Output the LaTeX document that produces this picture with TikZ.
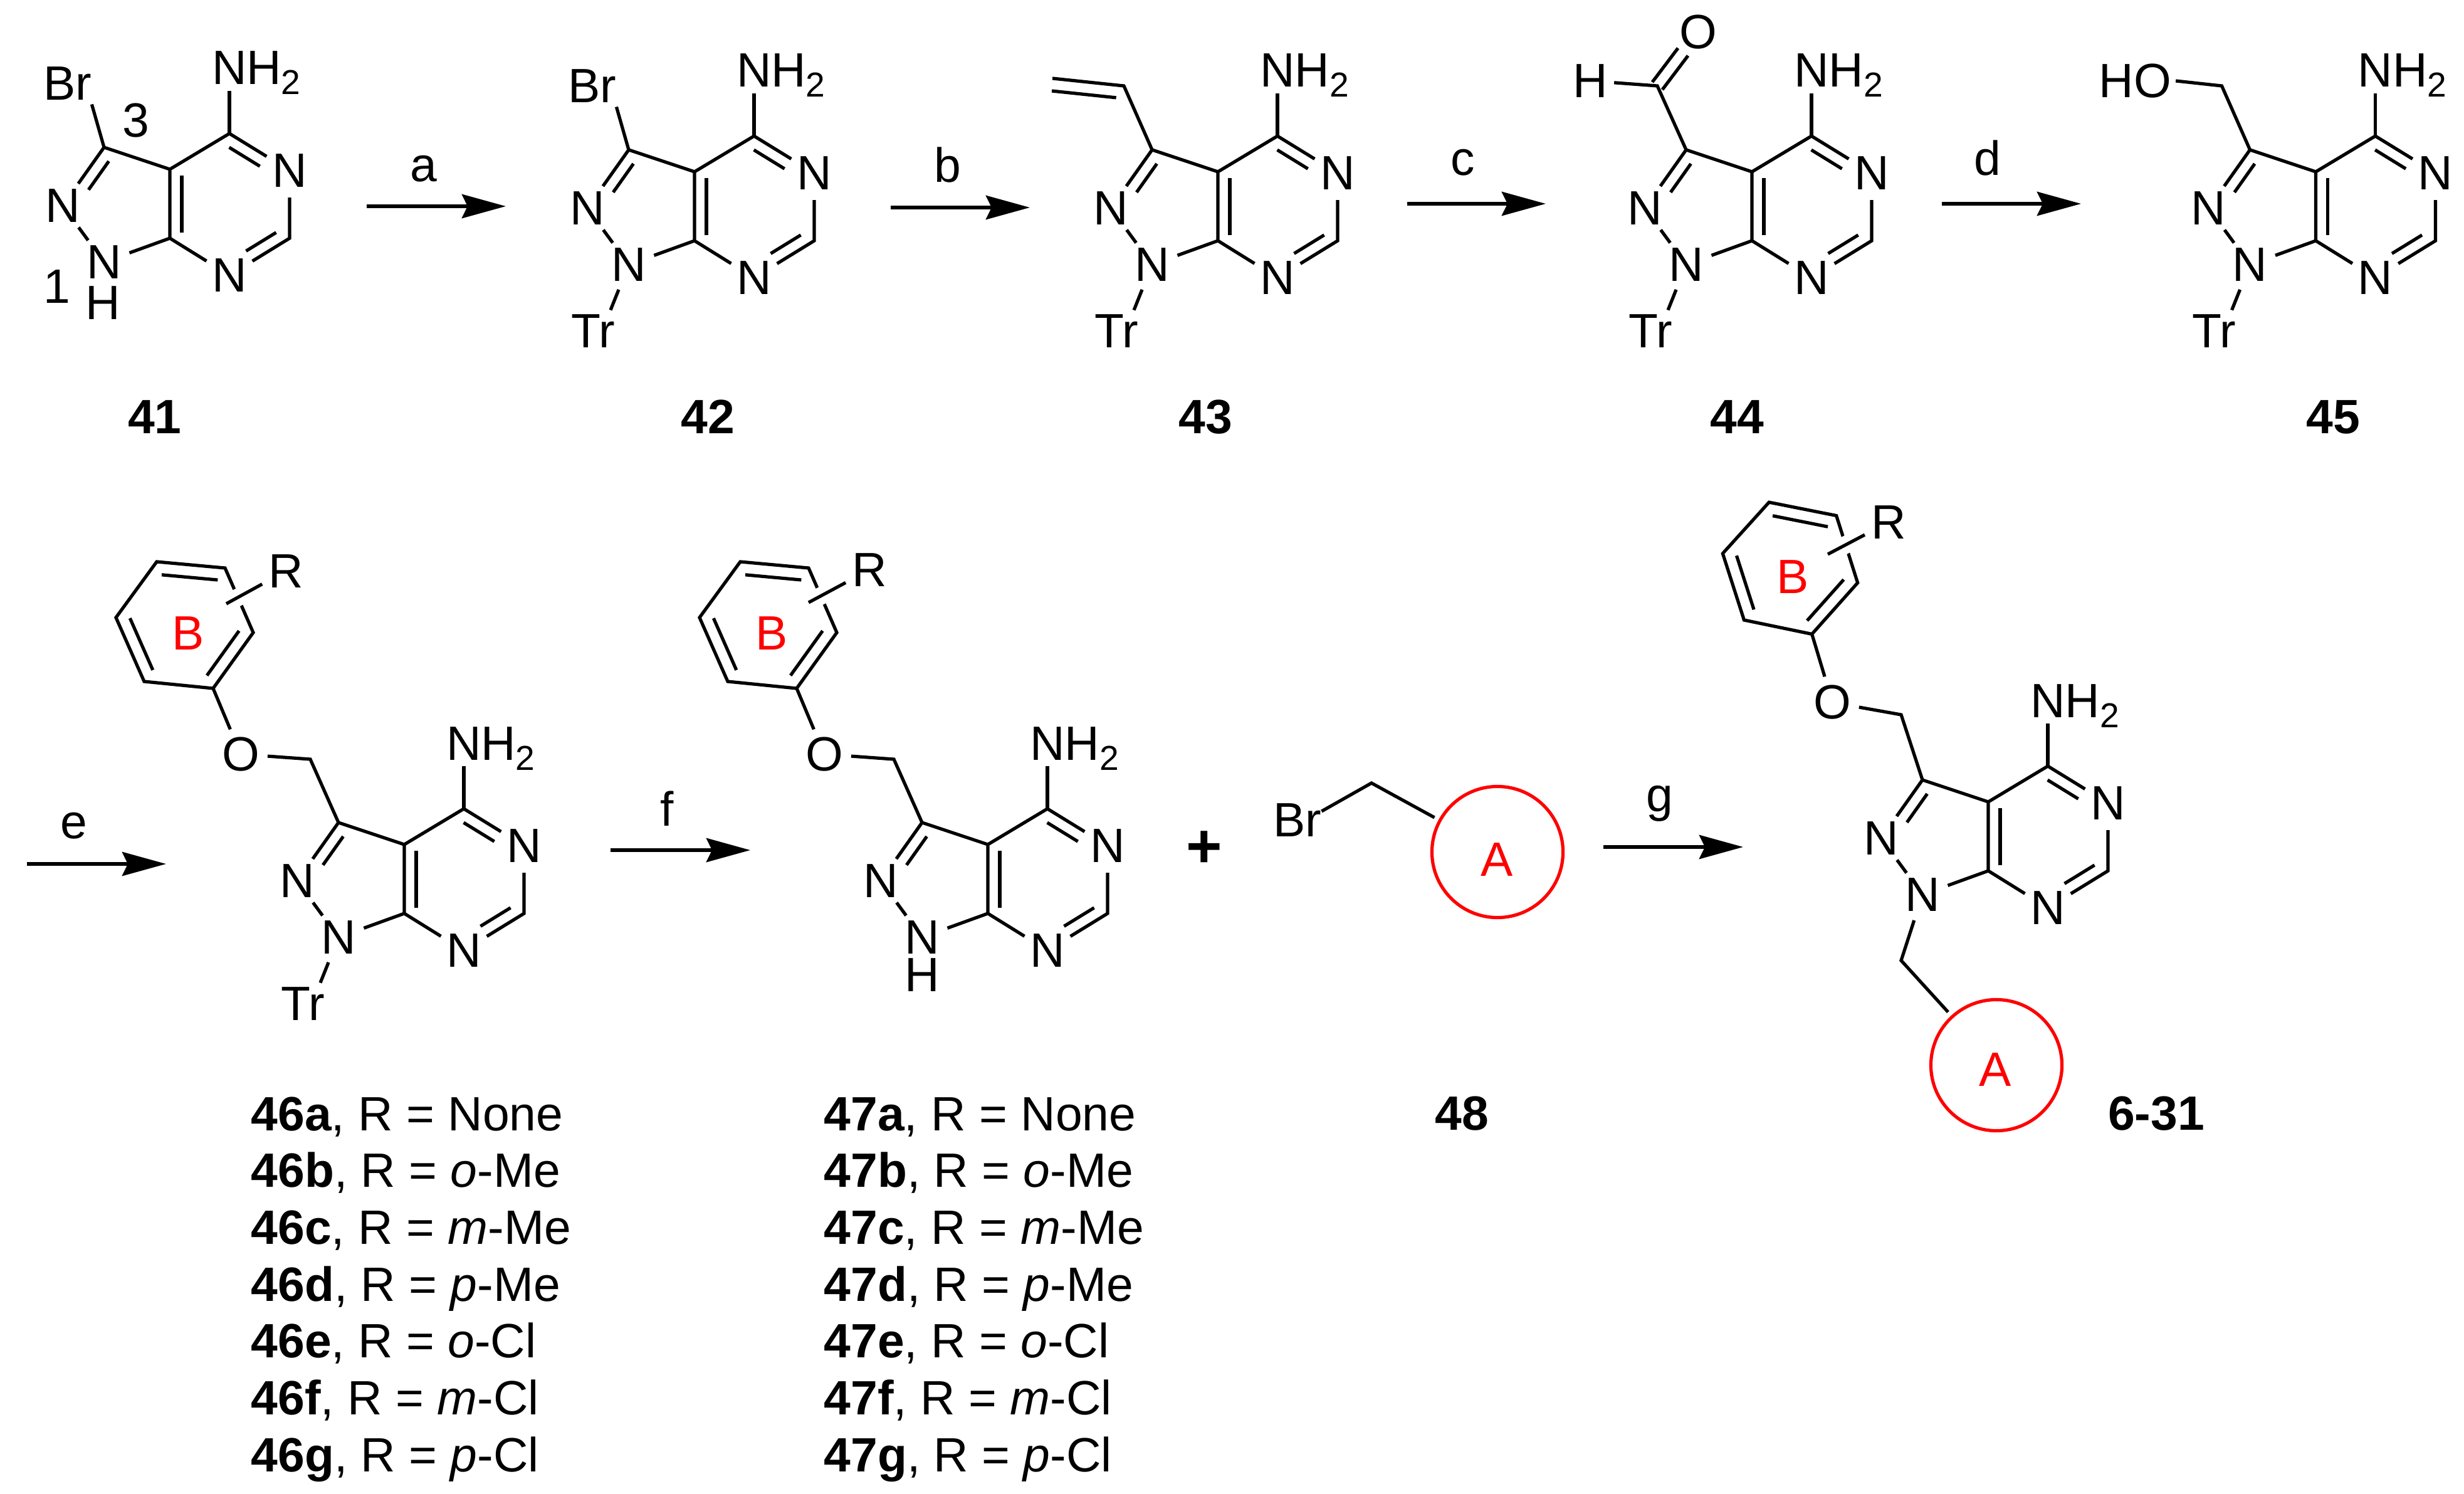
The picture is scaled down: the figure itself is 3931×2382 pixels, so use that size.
\documentclass[tikz,border=0pt]{standalone}
\usepackage{fontspec}
\setmainfont{Liberation Sans}
\usetikzlibrary{calc,arrows.meta}
\tikzset{
  every node/.style={font=\fontsize{21.85}{26}\selectfont},
  atom/.style={circle,inner sep=0pt,outer sep=0pt,minimum size=.86cm},
  atomh/.style={circle,inner sep=0pt,outer sep=0pt,minimum size=.6cm},
  sidelbl/.style={rectangle,inner xsep=0pt,inner ysep=.07cm,outer sep=0pt},
  amine/.style={rectangle,anchor=south west,inner xsep=0pt,inner ysep=.1cm,outer sep=0pt,text depth=0pt},
  ringa/.style={circle,draw=red,minimum size=2.09cm,inner sep=0pt,outer sep=.1cm},
  ringtxt/.style={text=red,inner sep=0pt},
  cmpd/.style={anchor=base,inner sep=0pt,font=\fontsize{21.85}{26}\selectfont\bfseries},
  rowlbl/.style={anchor=base west,inner sep=0pt},
  rxnlbl/.style={anchor=base,inner sep=0pt},
  rxn/.style={line width=.06cm,-{Stealth[length=.7cm,width=.38cm,inset=.09cm]}}
}
\newcommand{\subtwo}{\raisebox{-.16cm}{\fontsize{15.7}{18}\selectfont 2}}
\newcommand{\dbl}[6][.19cm]{\draw ($(#2)!#4!(#3)!#1!#6:(#3)$) -- ($(#2)!#5!(#3)!#1!#6:(#3)$);}
\newcommand{\pyrcore}[1]{
  \coordinate (#1c3) at (-105,-35);
  \coordinate (#1c3a) at (0,0);
  \coordinate (#1c7a) at (0,110);
  \coordinate (#1c4) at (95,-57);
  \coordinate (#1c6) at (191,110);
  \node[atom] (#1n5) at (191,2) {N};
  \node[atom] (#1n7) at (95,169) {N};
  \node[atom] (#1n2) at (-171,58) {N};
  \node[atom] (#1n1) at (-105,148) {N};
  \node[amine] (#1nh) at (67,-125) {NH\subtwo};
  \draw (#1n2) -- (#1c3) -- (#1c3a) -- (#1c4) -- (#1n5) -- (#1c6) -- (#1n7) -- (#1c7a) -- (#1c3a);
  \draw (#1c7a) -- (#1n1) -- (#1n2);
  \draw (#1c4) -- (#1c4 |- #1nh.south);
  \dbl{#1c3a}{#1c7a}{.09}{.92}{90}
  \dbl{#1c3}{#1n2}{.12}{.61}{90}
  \dbl{#1c4}{#1n5}{.1}{.61}{-90}
  \dbl{#1c6}{#1n7}{.12}{.62}{-90}
}
\newcommand{\trgroup}[1]{
  \node[sidelbl] (#1tr) at (-162,254) {Tr};
  \draw (#1n1) -- (#1tr.50);
}
\newcommand{\brgroup}[1]{
  \node[sidelbl] (#1br) at (-163,-137) {Br};
  \draw (#1c3) -- (#1br.south east);
}
\newcommand{\aryloxy}[4]{
  \begin{scope}[#2]
    \coordinate (#1ch2) at (-150,-136);
    \node[atom] (#1o) at (-261,-144) {O};
    \coordinate (#1v1) at (-395,-451);
    \coordinate (#1v2) at (-286,-441);
    \coordinate (#1v3) at (-241,-338);
    \coordinate (#1v4) at (-305,-249);
    \coordinate (#1v5) at (-415,-260);
    \coordinate (#1v6) at (-460,-362);
    \node[ringtxt] (#1b) at (-345,-337) {B};
  \end{scope}
  \coordinate (#1rb) at (#3);
  \node[atom] (#1r) at (#4) {R};
  \draw (#1c3) -- (#1ch2) -- (#1o) -- (#1v4);
  \draw (#1v1) -- (#1v2) -- (#1v3) -- (#1v4) -- (#1v5) -- (#1v6) -- cycle;
  \dbl[.2cm]{#1v1}{#1v2}{.09}{.91}{-90}
  \dbl[.2cm]{#1v3}{#1v4}{.1}{.9}{-90}
  \dbl[.2cm]{#1v5}{#1v6}{.1}{.91}{-90}
  \draw[white,line width=.28cm] (#1rb) -- (#1r);
  \draw (#1rb) -- (#1r);
}
\begin{document}
\begin{tikzpicture}[x=.01cm,y=-.01cm,line width=.052cm]
  \useasboundingbox (0,0) rectangle (3931,2382);
  \begin{scope}[shift={(271,270)}]
    \pyrcore{m41}
    \brgroup{m41}
    \node[atomh] (m41h) at (-107,213) {H};
    \node[sidelbl] (m41p3) at (-54,-78) {3};
    \node[sidelbl] (m41p1) at (-180,187) {1};
  \end{scope}
  \begin{scope}[shift={(1108,274)}]
    \pyrcore{m42}
    \brgroup{m42}
    \trgroup{m42}
  \end{scope}
  \begin{scope}[shift={(1943,274)}]
    \pyrcore{m43}
    \trgroup{m43}
    \coordinate (m43vi) at (-150,-137);
    \coordinate (m43vt) at (-264,-149);
    \draw (m43c3) -- (m43vi) -- (m43vt);
    \dbl[.2cm]{m43vi}{m43vt}{.09}{.99}{90}
  \end{scope}
  \begin{scope}[shift={(2795,274)}]
    \pyrcore{m44}
    \trgroup{m44}
    \coordinate (m44cho) at (-151,-137);
    \node[atomh] (m44h) at (-258,-145) {H};
    \node[atom] (m44o) at (-86,-223) {O};
    \draw (m44c3) -- (m44cho) -- (m44h);
    \dbl[.1cm]{m44cho}{m44o}{0}{.63}{90}
    \dbl[.1cm]{m44cho}{m44o}{0}{.63}{-90}
  \end{scope}
  \begin{scope}[shift={(3694.5,274)}]
    \pyrcore{m45}
    \trgroup{m45}
    \coordinate (m45ch2) at (-150,-137);
    \node[sidelbl,inner xsep=.07cm] (m45ho) at (-288,-145) {HO};
    \draw (m45c3) -- (m45ch2) -- (m45ho.east);
  \end{scope}
  \begin{scope}[shift={(645,1347)}]
    \pyrcore{m46}
    \trgroup{m46}
    \aryloxy{m46}{}{-284,-384}{-189,-436}
  \end{scope}
  \begin{scope}[shift={(1576,1347)}]
    \pyrcore{m47}
    \node[atomh] (m47h) at (-105,208) {H};
    \aryloxy{m47}{}{-286,-386}{-189,-438}
  \end{scope}
  \node[sidelbl] (br48) at (2070,1308) {Br};
  \coordinate (ch48) at (2188,1249);
  \node[ringa] (ring48) at (2389,1359) {};
  \node[ringtxt] (a48) at (2388,1371) {A};
  \draw (br48.20) -- (ch48) -- (ring48);
  \begin{scope}[shift={(3172,1279)}]
    \pyrcore{m31}
    \aryloxy{m31}{shift={(11,-3)},rotate around={-6:(-150,-136)}}{-256,-395}{-159,-446}
    \coordinate (ch31) at (-139,253);
    \node[ringa] (ring31) at (13,420) {};
    \node[ringtxt] (a31) at (11,427) {A};
    \draw (m31n1) -- (ch31) -- (ring31);
  \end{scope}
  \foreach \nm/\xa/\xb/\yy/\lx/\ly in {a/585/807/329/676/290,b/1421/1643/331/1512/291,c/2245/2466/325/2334/280,d/3098/3320/325/3171/280,e/43/265/1378/118/1337,f/974/1197/1356/1064/1317,g/2558/2781/1351/2648/1294}{
    \coordinate (s\nm) at (\xa,\yy);
    \coordinate (t\nm) at (\xb,\yy);
    \draw[rxn] (s\nm) -- (t\nm);
    \node[rxnlbl] (l\nm) at (\lx,\ly) {\nm};
  }
  \node[anchor=base,inner sep=0pt,font=\fontsize{28}{30}\selectfont\bfseries] (plus) at (1921,1383) {+};
  \foreach \nm/\xx in {41/247,42/1129,43/1923,44/2771,45/3722}{
    \node[cmpd] (lbl\nm) at (\xx,691) {\nm};
  }
  \node[cmpd] (lbl48) at (2332,1802) {48};
  \node[cmpd] (lbl631) at (3440,1802) {6-31};
  \foreach \cpd/\xx in {46/398,47/1312}{
    \foreach \sfx/\txt [count=\i from 0] in {a/None,b/\textit{o}-Me,c/\textit{m}-Me,d/\textit{p}-Me,e/\textit{o}-Cl,f/\textit{m}-Cl,g/\textit{p}-Cl}{
      \node[rowlbl] (l\cpd\sfx) at (\xx,{1803+90.7*\i}) {\textbf{\cpd\sfx}, R = \txt};
    }
  }
\end{tikzpicture}
\end{document}
